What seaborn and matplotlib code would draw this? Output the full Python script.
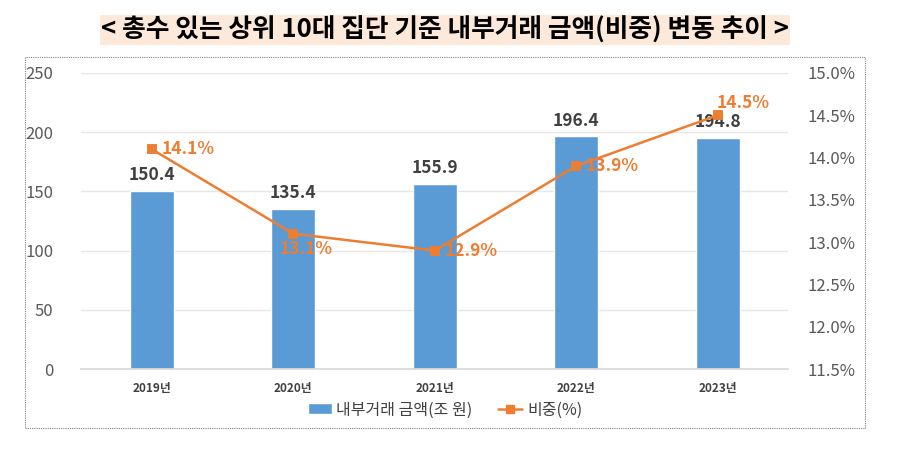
import matplotlib
matplotlib.use("Agg")
import matplotlib.pyplot as plt
import numpy as np
import pandas as pd
import seaborn as sns
from matplotlib.lines import Line2D
from matplotlib.patches import Patch, Rectangle
from matplotlib.ticker import FuncFormatter

years = ["2019년", "2020년", "2021년", "2022년", "2023년"]
amount = [150.4, 135.4, 155.9, 196.4, 194.8]
share = [14.1, 13.1, 12.9, 13.9, 14.5]
share_labels = ["14.1%", "13.1%", "12.9%", "13.9%", "14.5%"]
# label offsets (points) for the share labels
share_offsets = [(7, 0, "left"), (9, -11, "center"), (7, 0, "left"), (7, 0, "left"), (18, 9, "center")]

title = "< 총수 있는 상위 10대 집단 기준 내부거래 금액(비중) 변동 추이 >"
bar_name = "내부거래 금액(조 원)"
line_name = "비중(%)"

BLUE = "#5B9BD5"
ORANGE = "#ED7D31"
TXT = "#404040"
TICK = "#595959"

sns.set_theme(style="white")
plt.rcParams["font.family"] = ["Noto Sans CJK KR", "DejaVu Sans"]

df = pd.DataFrame({"year": years, "amount": amount, "share": share})

fig = plt.figure(figsize=(8.99, 4.59), dpi=100)
ax = fig.add_axes([0.090, 0.196, 0.787, 0.645])

sns.barplot(data=df, x="year", y="amount", color=BLUE, saturation=1, width=0.31, ax=ax)
ax.set_ylim(0, 250)
ax.set_yticks(np.arange(0, 251, 50))
ax.yaxis.grid(True, color="#E6E6E6", linewidth=1)
ax.set_axisbelow(True)
for s in ["left", "right", "top"]:
    ax.spines[s].set_visible(False)
ax.spines["bottom"].set_color("#D9D9D9")
ax.tick_params(axis="y", length=0, labelsize=12, labelcolor=TICK, pad=20)
ax.tick_params(axis="x", length=0, labelsize=8.5, labelcolor=TXT, pad=9)
for lab in ax.get_xticklabels():
    lab.set_fontweight("bold")
ax.set(xlabel=None, ylabel=None)

for i, v in enumerate(amount):
    ax.annotate(f"{v:.1f}", (i, v), xytext=(0, 5), textcoords="offset points",
                ha="center", va="bottom", fontsize=12.5, fontweight="bold", color=TXT)

ax2 = ax.twinx()
sns.pointplot(data=df, x="year", y="share", color=ORANGE, markers="s",
              markersize=5.5, linewidth=1.8, ax=ax2)
ax2.set_ylim(11.5, 15.0)
ax2.set_yticks(np.arange(11.5, 15.01, 0.5))
ax2.yaxis.set_major_formatter(FuncFormatter(lambda v, p: f"{v:.1f}%"))
ax2.tick_params(axis="y", length=0, labelsize=12, labelcolor=TICK, pad=14)
for s in ["left", "right", "top", "bottom"]:
    ax2.spines[s].set_visible(False)
ax2.set(xlabel=None, ylabel=None)
ax2.grid(False)

for i, (v, lab) in enumerate(zip(share, share_labels)):
    dx, dy, ha = share_offsets[i]
    ax2.annotate(lab, (i, v), xytext=(dx, dy), textcoords="offset points",
                 ha=ha, va="center", fontsize=12.5, fontweight="bold", color=ORANGE)

handles = [
    Patch(facecolor=BLUE, label=bar_name),
    Line2D([0], [0], color=ORANGE, marker="s", markersize=5.5, linewidth=1.8, label=line_name),
]
fig.legend(handles=handles, loc="center", bbox_to_anchor=(0.495, 0.107), ncol=2,
           frameon=False, fontsize=11.5, labelcolor=TXT, handlelength=1.5,
           handletextpad=0.3, columnspacing=1.6)

# dotted frame around the chart
fig.patches.append(Rectangle((0.028, 0.068), 0.934, 0.808, transform=fig.transFigure,
                             fill=False, edgecolor="#808080", linestyle=(0, (1, 1)), linewidth=0.8))

fig.text(0.495, 0.935, title, ha="center", va="center", fontsize=18.5, fontweight="bold",
         color="black", bbox=dict(facecolor="#FDE9D9", edgecolor="none", pad=1))

fig.savefig("out.png", dpi=100)
